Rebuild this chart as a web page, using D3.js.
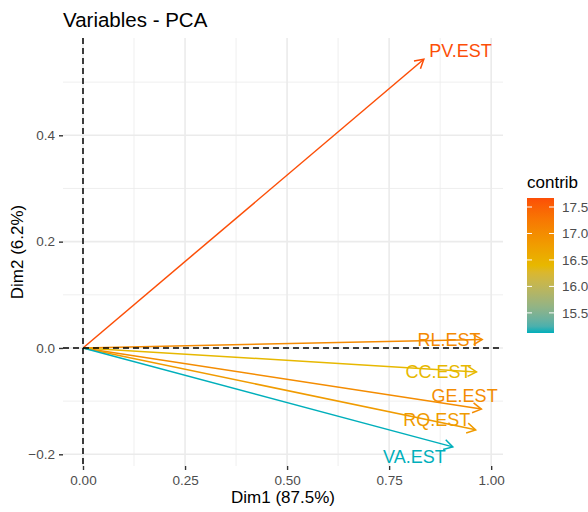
<!DOCTYPE html>
<html>
<head>
<meta charset="utf-8">
<script src="https://cdn.jsdelivr.net/npm/d3@7"></script>
<style>
  body { margin: 0; background: #fff; }
  text { font-family: "Liberation Sans", Arial, sans-serif; }
</style>
</head>
<body>
<div id="chart"></div>
<script>
// Dati
const variables = ['PV.EST', 'RL.EST', 'CC.EST', 'GE.EST', 'RQ.EST', 'VA.EST'];
const dim1 = [0.835, 0.978, 0.964, 0.976, 0.962, 0.906];
const dim2 = [0.543, 0.016, -0.045, -0.115, -0.154, -0.186];
const contrib = [17.67, 17.03, 16.40, 17.00, 16.80, 15.12];
// posizioni delle etichette (unita' dei dati)
const labelX = [0.925, 0.897, 0.871, 0.935, 0.867, 0.812];
const labelY = [0.559, 0.016, -0.044, -0.090, -0.135, -0.204];
const xTicks = [0, 0.25, 0.5, 0.75, 1];
const xMinor = [0.125, 0.375, 0.625, 0.875];
const yTicks = [-0.2, 0, 0.2, 0.4];
const yMinor = [-0.1, 0.1, 0.3, 0.5];
const legendTicks = [15.5, 16, 16.5, 17, 17.5];
const gradientColors = ['#00AFBB', '#E7B800', '#FC4E07'];

// Variabili
const [width, height] = [588, 512];
const panel = { left: 63, right: 503, top: 38, bottom: 466 };

const svg = d3.select('#chart').append('svg')
  .attr('width', width)
  .attr('height', height);

const xScale = d3.scaleLinear().domain([-0.049, 1.029]).range([panel.left, panel.right]);
const yScale = d3.scaleLinear().domain([-0.222, 0.583]).range([panel.bottom, panel.top]);

const cExt = d3.extent(contrib);
const colorScale = d3.scaleLinear()
  .domain([cExt[0], (cExt[0] + cExt[1]) / 2, cExt[1]])
  .range(gradientColors)
  .interpolate(d3.interpolateLab);

// Griglia
const grid = svg.append('g');
grid.selectAll('.xminor').data(xMinor).enter().append('line')
  .attr('x1', (d) => xScale(d)).attr('x2', (d) => xScale(d))
  .attr('y1', panel.top).attr('y2', panel.bottom)
  .attr('stroke', '#EBEBEB').attr('stroke-width', 0.8);
grid.selectAll('.yminor').data(yMinor).enter().append('line')
  .attr('y1', (d) => yScale(d)).attr('y2', (d) => yScale(d))
  .attr('x1', panel.left).attr('x2', panel.right)
  .attr('stroke', '#EBEBEB').attr('stroke-width', 0.8);
grid.selectAll('.xmajor').data(xTicks).enter().append('line')
  .attr('x1', (d) => xScale(d)).attr('x2', (d) => xScale(d))
  .attr('y1', panel.top).attr('y2', panel.bottom)
  .attr('stroke', '#EBEBEB').attr('stroke-width', 1.6);
grid.selectAll('.ymajor').data(yTicks).enter().append('line')
  .attr('y1', (d) => yScale(d)).attr('y2', (d) => yScale(d))
  .attr('x1', panel.left).attr('x2', panel.right)
  .attr('stroke', '#EBEBEB').attr('stroke-width', 1.6);

// Assi
const xAxis = svg.append('g')
  .attr('transform', `translate(0,${panel.bottom})`)
  .call(d3.axisBottom(xScale).tickValues(xTicks).tickSize(4).tickPadding(5).tickFormat(d3.format('.2f')));
const yAxis = svg.append('g')
  .attr('transform', `translate(${panel.left},0)`)
  .call(d3.axisLeft(yScale).tickValues(yTicks).tickSize(4).tickPadding(4).tickFormat(d3.format('.1f')));
[xAxis, yAxis].forEach((ax) => {
  ax.select('.domain').remove();
  ax.selectAll('line').attr('stroke', '#333333').attr('stroke-width', 1.4);
  ax.selectAll('text').attr('fill', '#4D4D4D').style('font-size', '13.5px')
    .style('font-family', '"Liberation Sans", Arial, sans-serif');
});

// Frecce
const data = variables.map((v, i) => ({
  name: v, x: dim1[i], y: dim2[i], c: contrib[i], lx: labelX[i], ly: labelY[i]
}));
const headLen = 10;
const arrows = svg.append('g');
data.forEach((d) => {
  const x0 = xScale(0), y0 = yScale(0);
  const x1 = xScale(d.x), y1 = yScale(d.y);
  const ang = Math.atan2(y1 - y0, x1 - x0);
  const col = colorScale(d.c);
  arrows.append('line')
    .attr('x1', x0).attr('y1', y0).attr('x2', x1).attr('y2', y1)
    .attr('stroke', col).attr('stroke-width', 1.5);
  const a1 = ang + Math.PI - Math.PI / 6;
  const a2 = ang + Math.PI + Math.PI / 6;
  arrows.append('path')
    .attr('d', `M${x1 + headLen * Math.cos(a1)},${y1 + headLen * Math.sin(a1)}L${x1},${y1}L${x1 + headLen * Math.cos(a2)},${y1 + headLen * Math.sin(a2)}`)
    .attr('fill', 'none').attr('stroke', col).attr('stroke-width', 1.5)
    .attr('stroke-linejoin', 'miter');
});

// Etichette
svg.append('g').selectAll('text').data(data).enter().append('text')
  .attr('x', (d) => xScale(d.lx))
  .attr('y', (d) => yScale(d.ly))
  .attr('text-anchor', 'middle')
  .attr('dy', '0.36em')
  .attr('fill', (d) => colorScale(d.c))
  .style('font-size', '18px')
  .text((d) => d.name);

// Linee tratteggiate
svg.append('line')
  .attr('x1', xScale(0)).attr('x2', xScale(0))
  .attr('y1', panel.top).attr('y2', panel.bottom)
  .attr('stroke', '#000').attr('stroke-width', 1.5).attr('stroke-dasharray', '6,4');
svg.append('line')
  .attr('x1', panel.left).attr('x2', panel.right)
  .attr('y1', yScale(0)).attr('y2', yScale(0))
  .attr('stroke', '#000').attr('stroke-width', 1.5).attr('stroke-dasharray', '6,4');

// Titoli
svg.append('text')
  .attr('x', panel.left).attr('y', 27)
  .style('font-size', '20.5px').attr('fill', '#000')
  .text('Variables - PCA');
svg.append('text')
  .attr('x', (panel.left + panel.right) / 2).attr('y', 503)
  .attr('text-anchor', 'middle')
  .style('font-size', '17px').attr('fill', '#000')
  .text('Dim1 (87.5%)');
svg.append('text')
  .attr('transform', `translate(23,${(panel.top + panel.bottom) / 2}) rotate(-90)`)
  .attr('text-anchor', 'middle')
  .style('font-size', '17px').attr('fill', '#000')
  .text('Dim2 (6.2%)');

// Legenda
const leg = { x: 527, w: 27, top: 198, bottom: 333 };
const legScale = d3.scaleLinear().domain(cExt).range([leg.bottom, leg.top]);
const defs = svg.append('defs');
const grad = defs.append('linearGradient')
  .attr('id', 'contribGrad')
  .attr('x1', 0).attr('y1', 1).attr('x2', 0).attr('y2', 0);
d3.range(0, 1.0001, 0.05).forEach((t) => {
  grad.append('stop')
    .attr('offset', t)
    .attr('stop-color', colorScale(cExt[0] + t * (cExt[1] - cExt[0])));
});
svg.append('text')
  .attr('x', leg.x).attr('y', 188)
  .style('font-size', '17px').attr('fill', '#000')
  .text('contrib');
svg.append('rect')
  .attr('x', leg.x).attr('y', leg.top)
  .attr('width', leg.w).attr('height', leg.bottom - leg.top)
  .attr('fill', 'url(#contribGrad)');
const legTicks = svg.append('g');
legendTicks.forEach((t) => {
  const y = legScale(t);
  legTicks.append('line').attr('x1', leg.x).attr('x2', leg.x + 5).attr('y1', y).attr('y2', y)
    .attr('stroke', '#fff').attr('stroke-width', 1);
  legTicks.append('line').attr('x1', leg.x + leg.w - 5).attr('x2', leg.x + leg.w).attr('y1', y).attr('y2', y)
    .attr('stroke', '#fff').attr('stroke-width', 1);
  legTicks.append('text')
    .attr('x', leg.x + leg.w + 8).attr('y', y).attr('dy', '0.35em')
    .style('font-size', '13.5px').attr('fill', '#4D4D4D')
    .text(d3.format('.1f')(t));
});
</script>
</body>
</html>
